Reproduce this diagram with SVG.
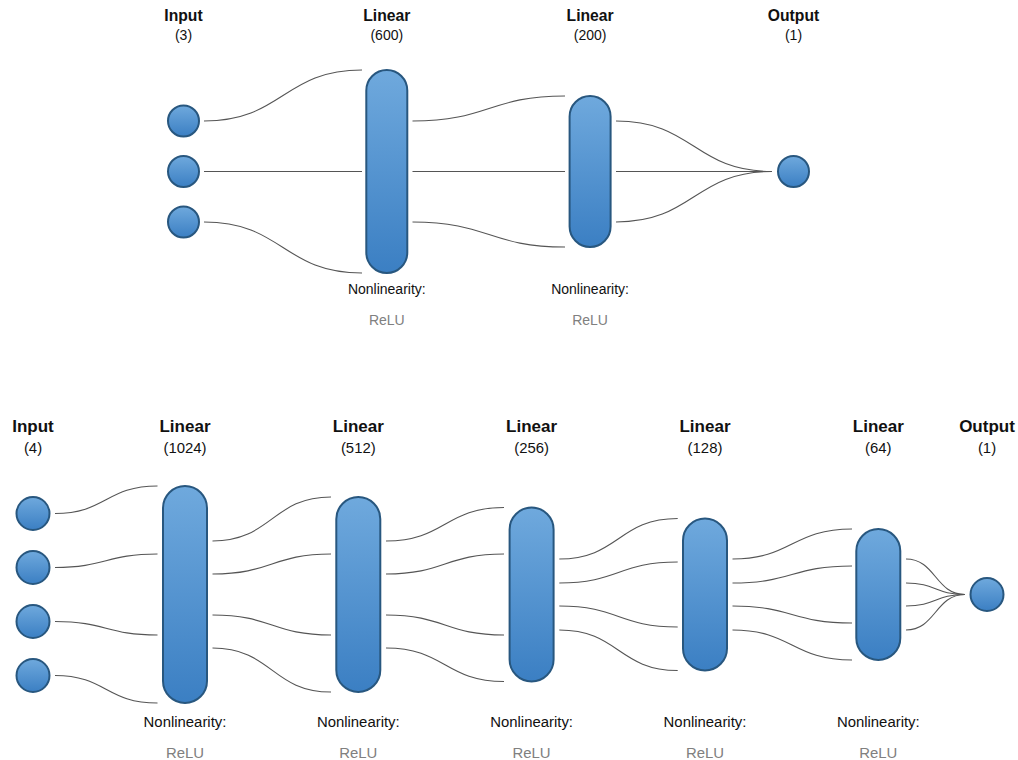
<svg xmlns="http://www.w3.org/2000/svg" width="1018" height="760" viewBox="0 0 1018 760">
<defs>
<linearGradient id="g" x1="0" y1="0" x2="0" y2="1">
<stop offset="0" stop-color="#6fa9dd"/>
<stop offset="1" stop-color="#3b7fc3"/>
</linearGradient>
<style>
.n{fill:url(#g);stroke:#28577f;stroke-width:2}
.c path{fill:none;stroke:#555;stroke-width:1.1}
text{font-family:"Liberation Sans",Arial,sans-serif;text-anchor:middle;fill:#111}
.t1{font-weight:bold;font-size:15.7px}
.s1{font-size:14px}
.t2{font-weight:bold;font-size:17px}
.s2{font-size:14.9px}
.r1{font-size:14px;fill:#808080}
.r2{font-size:14.9px;fill:#808080}
</style>
</defs>
<rect width="1018" height="760" fill="#fff"/>
<g class="c" id="connectors">
<path d="M204 121C283 121 283 70 362 70"/>
<path d="M204 171.5H362"/>
<path d="M204 222C283 222 283 273 362 273"/>
<path d="M412.5 121C489 121 489 96 565 96"/>
<path d="M412.5 171.5H565"/>
<path d="M412.5 222C489 222 489 247 565 247"/>
<path d="M616 121C694 121 694 171.5 772 171.5"/>
<path d="M616 171.5H772"/>
<path d="M616 222C694 222 694 171.5 772 171.5"/>
<path d="M55 513.5C106 513.5 106 486 157.5 486"/>
<path d="M55 567.5C106 567.5 106 554 157.5 554"/>
<path d="M55 621.5C106 621.5 106 635 157.5 635"/>
<path d="M55 675.5C106 675.5 106 703 157.5 703"/>
<path d="M212.5 541C272 541 272 497 331 497"/>
<path d="M212.5 574C272 574 272 554 331 554"/>
<path d="M212.5 615C272 615 272 635 331 635"/>
<path d="M212.5 648C272 648 272 692 331 692"/>
<path d="M386 541C445 541 445 507.5 504 507.5"/>
<path d="M386 574C445 574 445 554 504 554"/>
<path d="M386 615C445 615 445 635 504 635"/>
<path d="M386 648C445 648 445 681.5 504 681.5"/>
<path d="M559.3 559C618.5 559 618.5 518.5 677.7 518.5"/>
<path d="M559.3 583C618.5 583 618.5 562 677.7 562"/>
<path d="M559.3 606C618.5 606 618.5 627 677.7 627"/>
<path d="M559.3 630C618.5 630 618.5 670.5 677.7 670.5"/>
<path d="M732.5 559C792 559 792 529 852 529"/>
<path d="M732.5 583C792 583 792 566 852 566"/>
<path d="M732.5 606C792 606 792 623 852 623"/>
<path d="M732.5 630C792 630 792 660 852 660"/>
<path d="M906 559C935.5 559 935.5 594.5 965 594.5"/>
<path d="M906 583C935.5 583 935.5 594.5 965 594.5"/>
<path d="M906 606C935.5 606 935.5 594.5 965 594.5"/>
<path d="M906 630C935.5 630 935.5 594.5 965 594.5"/>
</g>
<g id="top-input">
<circle class="n" cx="183.5" cy="121" r="15.5"/>
<circle class="n" cx="183.5" cy="171.5" r="15.5"/>
<circle class="n" cx="183.5" cy="222" r="15.5"/>
<text class="t1" x="183.5" y="21">Input</text>
<text class="s1" x="183.5" y="40">(3)</text>
</g>
<g id="top-linear-600">
<rect class="n" x="366.3" y="70" width="41" height="203" rx="20.5"/>
<text class="t1" x="386.8" y="21">Linear</text>
<text class="s1" x="386.8" y="40">(600)</text>
<text class="s1" x="386.8" y="294">Nonlinearity:</text>
<text class="r1" x="386.8" y="325">ReLU</text>
</g>
<g id="top-linear-200">
<rect class="n" x="569.6" y="96" width="41" height="151" rx="20.5"/>
<text class="t1" x="590.1" y="21">Linear</text>
<text class="s1" x="590.1" y="40">(200)</text>
<text class="s1" x="590.1" y="294">Nonlinearity:</text>
<text class="r1" x="590.1" y="325">ReLU</text>
</g>
<g id="top-output">
<circle class="n" cx="793.5" cy="171.5" r="15.5"/>
<text class="t1" x="793.5" y="21">Output</text>
<text class="s1" x="793.5" y="40">(1)</text>
</g>
<g id="bot-input">
<circle class="n" cx="33" cy="513.5" r="16.5"/>
<circle class="n" cx="33" cy="567.5" r="16.5"/>
<circle class="n" cx="33" cy="621.5" r="16.5"/>
<circle class="n" cx="33" cy="675.5" r="16.5"/>
<text class="t2" x="33" y="432">Input</text>
<text class="s2" x="33" y="453">(4)</text>
</g>
<g id="bot-linear-1024">
<rect class="n" x="163" y="486" width="44" height="217" rx="22"/>
<text class="t2" x="185" y="432">Linear</text>
<text class="s2" x="185" y="453">(1024)</text>
<text class="s2" x="185" y="727">Nonlinearity:</text>
<text class="r2" x="185" y="758">ReLU</text>
</g>
<g id="bot-linear-512">
<rect class="n" x="336.3" y="497" width="44" height="195" rx="22"/>
<text class="t2" x="358.3" y="432">Linear</text>
<text class="s2" x="358.3" y="453">(512)</text>
<text class="s2" x="358.3" y="727">Nonlinearity:</text>
<text class="r2" x="358.3" y="758">ReLU</text>
</g>
<g id="bot-linear-256">
<rect class="n" x="509.6" y="507.5" width="44" height="174" rx="22"/>
<text class="t2" x="531.6" y="432">Linear</text>
<text class="s2" x="531.6" y="453">(256)</text>
<text class="s2" x="531.6" y="727">Nonlinearity:</text>
<text class="r2" x="531.6" y="758">ReLU</text>
</g>
<g id="bot-linear-128">
<rect class="n" x="683" y="518.5" width="44" height="152" rx="22"/>
<text class="t2" x="705" y="432">Linear</text>
<text class="s2" x="705" y="453">(128)</text>
<text class="s2" x="705" y="727">Nonlinearity:</text>
<text class="r2" x="705" y="758">ReLU</text>
</g>
<g id="bot-linear-64">
<rect class="n" x="856.3" y="529" width="44" height="131" rx="22"/>
<text class="t2" x="878.3" y="432">Linear</text>
<text class="s2" x="878.3" y="453">(64)</text>
<text class="s2" x="878.3" y="727">Nonlinearity:</text>
<text class="r2" x="878.3" y="758">ReLU</text>
</g>
<g id="bot-output">
<circle class="n" cx="987" cy="594.5" r="16.5"/>
<text class="t2" x="987" y="432">Output</text>
<text class="s2" x="987" y="453">(1)</text>
</g>
</svg>
